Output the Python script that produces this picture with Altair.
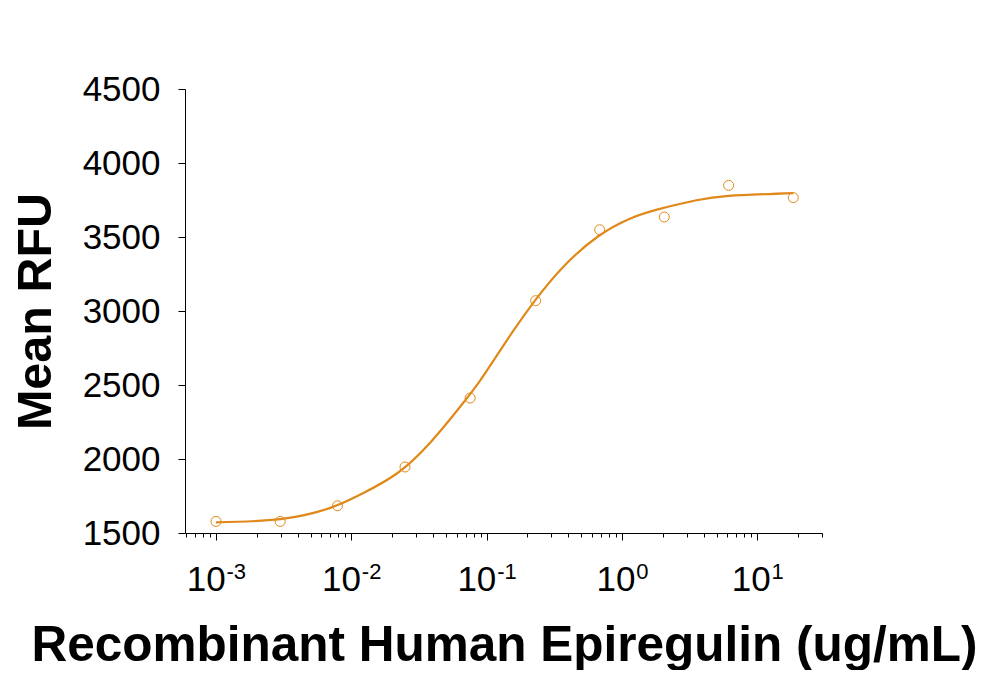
import altair as alt
import pandas as pd

conc = [0.001, 0.00298, 0.0079, 0.0249, 0.0754, 0.230, 0.683, 2.05, 6.13, 18.4]
rfu = [1578, 1578, 1684, 1946, 2412, 3070, 3549, 3635, 3849, 3766]

# Fitted curve, read along its path in the picture
curve_conc = [0.001, 0.00299, 0.00698, 0.01227, 0.02168, 0.03819, 0.06714, 0.08933,
              0.1151, 0.1570, 0.2270, 0.3673, 0.6668, 1.143, 1.901, 3.548, 6.138, 18.45]
curve_rfu = [1572, 1594, 1670, 1770, 1902, 2110, 2380, 2530,
             2680, 2865, 3070, 3298, 3505, 3624, 3690, 3748, 3778, 3797]

# Axis labels
y_ticks = [1500, 2000, 2500, 3000, 3500, 4000, 4500]
decades = [0.001, 0.01, 0.1, 1, 10]
exponents = ["-3", "-2", "-1", "0", "1"]
x_minor = [k * 10.0 ** e for e in range(-4, 2) for k in range(1, 10)]
x_minor = [round(v, 8) for v in x_minor if 0.00059 <= v <= 30]

COLOR = "#E0891A"
FONT = "Liberation Sans"
W, H = 637, 444

pts = pd.DataFrame({"conc": conc, "rfu": rfu})
crv = pd.DataFrame({"conc": curve_conc, "rfu": curve_rfu})
lbl = pd.DataFrame({"v": decades, "e": exponents})

xscale = alt.Scale(type="log", domain=[0.00059, 30], nice=False)
yscale = alt.Scale(domain=[1500, 4500], nice=False, zero=False)

is_major = "abs(log(datum.value)/LN10 - round(log(datum.value)/LN10)) < 0.000001"

xaxis = alt.Axis(
    values=x_minor, labels=False, grid=False,
    tickSize={"condition": {"test": is_major, "value": 7}, "value": 4},
    tickColor="black", domainColor="black", tickWidth=1, domainWidth=1,
    title="Recombinant Human Epiregulin (ug/mL)",
    titleFont=FONT, titleFontSize=49.5, titleFontWeight="bold", titleColor="black",
    titleX=319, titleY=127, titleBaseline="alphabetic", titleAlign="center",
)
yaxis = alt.Axis(
    values=y_ticks, format="d", grid=False, tickSize=7, tickColor="black", domainColor="black",
    labelFont=FONT, labelFontSize=35, labelColor="black", labelPadding=18,
    labelBaseline="middle",
    title="Mean RFU", titleFont=FONT, titleFontSize=48.5, titleFontWeight="bold",
    titleColor="black", titleX=-135, titleY=222, titleBaseline="alphabetic",
    titleAngle=270, titleAlign="center",
)

line = alt.Chart(crv).mark_line(color=COLOR, strokeWidth=2.2, interpolate="natural").encode(
    x=alt.X("conc:Q", scale=xscale, axis=xaxis),
    y=alt.Y("rfu:Q", scale=yscale, axis=yaxis),
)
points = alt.Chart(pts).mark_point(shape="circle", filled=False, color=COLOR, size=100,
                                    strokeWidth=1, opacity=1).encode(
    x=alt.X("conc:Q", scale=xscale),
    y=alt.Y("rfu:Q", scale=yscale),
)

neg = alt.datum.v < 1
pos = alt.datum.v >= 1
base_neg = alt.Chart(lbl).transform_filter(neg).mark_text(
    text="10", font=FONT, fontSize=35, align="right", baseline="alphabetic", dx=9.6, color="black"
).encode(x=alt.X("v:Q", scale=xscale), y=alt.value(502))
exp_neg = alt.Chart(lbl).transform_filter(neg).mark_text(
    font=FONT, fontSize=22, align="left", baseline="alphabetic", dx=10.5, color="black"
).encode(x=alt.X("v:Q", scale=xscale), y=alt.value(489.5), text="e:N")
base_pos = alt.Chart(lbl).transform_filter(pos).mark_text(
    text="10", font=FONT, fontSize=35, align="right", baseline="alphabetic", dx=13.3, color="black"
).encode(x=alt.X("v:Q", scale=xscale), y=alt.value(502))
exp_pos = alt.Chart(lbl).transform_filter(pos).mark_text(
    font=FONT, fontSize=22, align="left", baseline="alphabetic", dx=14.2, color="black"
).encode(x=alt.X("v:Q", scale=xscale), y=alt.value(489.5), text="e:N")

chart = alt.layer(line, points, base_neg, exp_neg, base_pos, exp_pos).properties(
    width=W, height=H,
    autosize=alt.AutoSizeParams(type="none"),
    padding={"left": 177, "top": 81, "right": 155, "bottom": 137},
    background="white",
).configure_view(stroke=None)

chart.save("out.html", embed_options={"renderer": "svg", "actions": False})
